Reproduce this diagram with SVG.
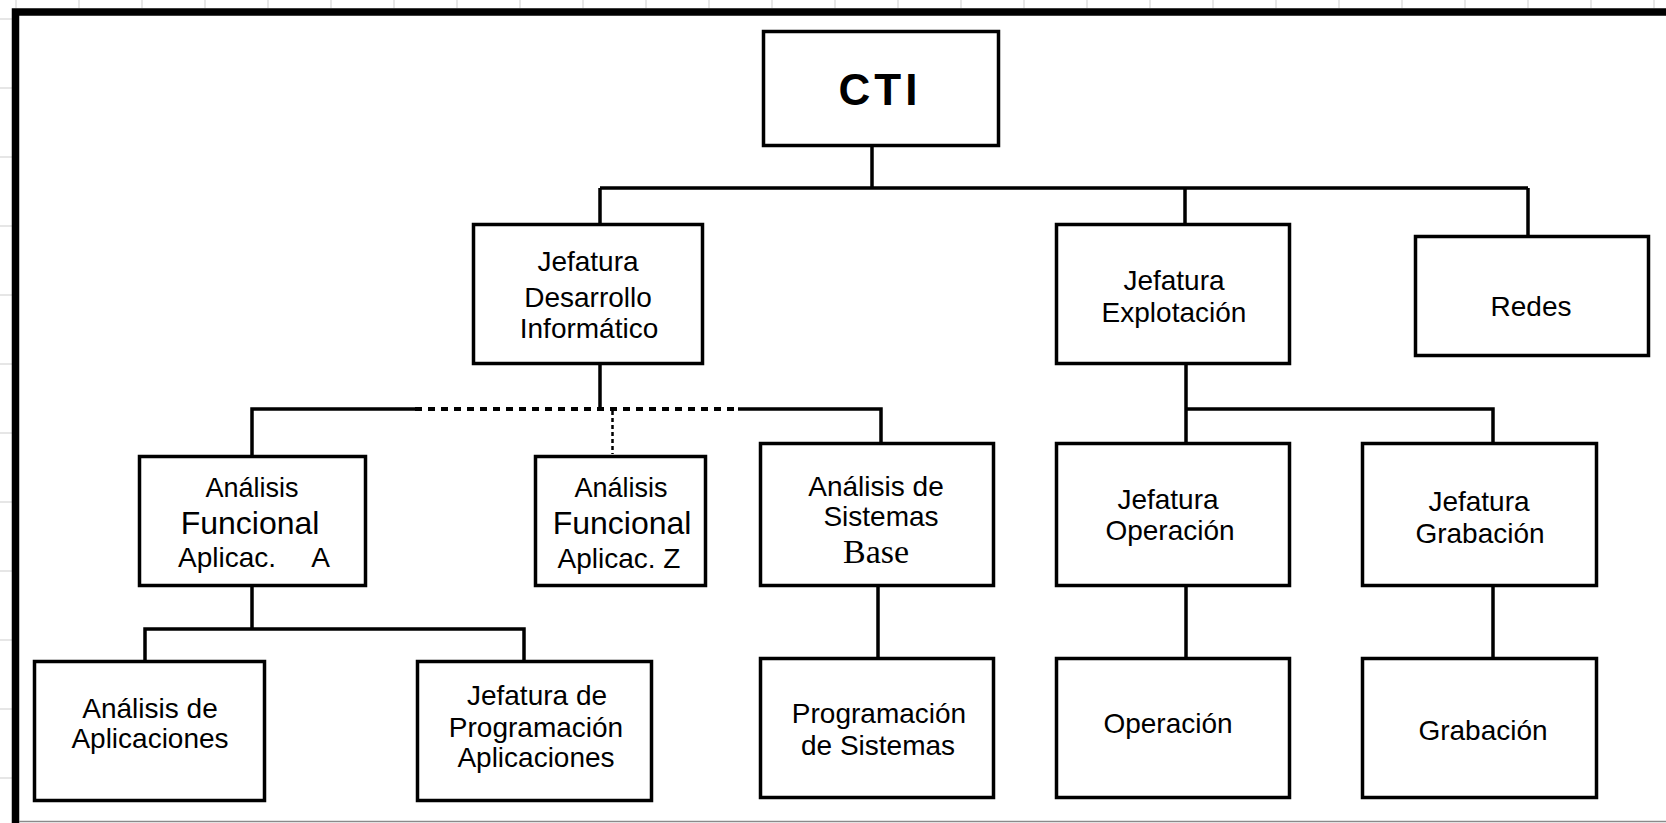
<svg xmlns="http://www.w3.org/2000/svg" width="1666" height="823" viewBox="0 0 1666 823">
<style>
.box{fill:#fff;stroke:#000;stroke-width:3.5}
.ln{fill:none;stroke:#000;stroke-width:3.5}
.dash{fill:none;stroke:#000;stroke-width:4;stroke-dasharray:7 6}
.dot{fill:none;stroke:#000;stroke-width:2.5;stroke-dasharray:4 3}
.grid{stroke:#dedede;stroke-width:1.5}
text{font-family:"Liberation Sans",Arial,sans-serif;font-size:28px;fill:#000;text-anchor:middle}
.sm{font-size:27px}
.big{font-size:32px}
.serif{font-family:"Liberation Serif","Times New Roman",serif;font-size:34px}
.cti{font-weight:bold;font-size:44px;letter-spacing:4px}
</style>
<rect width="1666" height="823" fill="#fff"/>
<g id="sheet-grid">
<path class="grid" d="M16 0V8M79 0V8M142 0V8M205 0V8M268 0V8M331 0V8M394 0V8M457 0V8M520 0V8M583 0V8M646 0V8M709 0V8M772 0V8M835 0V8M898 0V8M961 0V8M1024 0V8M1087 0V8M1150 0V8M1213 0V8M1276 0V8M1339 0V8M1402 0V8M1465 0V8M1528 0V8M1591 0V8M1654 0V8"/>
<path class="grid" d="M0 19H12M0 88H12M0 157H12M0 226H12M0 295H12M0 364H12M0 433H12M0 502H12M0 571H12M0 640H12M0 709H12M0 778H12"/>
</g>
<g id="frame">
<path d="M15.5 823V12H1666" fill="none" stroke="#000" stroke-width="7.5"/>
<path d="M19 821.5H1666" stroke="#8a8a8a" stroke-width="1.5"/>
</g>
<g id="connectors">
<path class="ln" d="M872 147V188M600 188H1528M600 188V223M1185 188V223M1528 188V235"/>
<path class="ln" d="M600 365V409"/>
<path class="ln" d="M252 455V409H415M738 409H881V442"/>
<path class="dash" d="M415 409H738"/>
<path class="dot" d="M612.5 411V454"/>
<path class="ln" d="M1186 365V442M1186 409H1493V442"/>
<path class="ln" d="M252 587V629M145 660V629H524V660"/>
<path class="ln" d="M878 587V657M1186 587V657M1493 587V657"/>
</g>
<g id="cti"><rect class="box" x="763.5" y="31.5" width="235" height="114"/><text class="cti" x="880" y="105">CTI</text></g>
<g id="jefatura-desarrollo"><rect class="box" x="473.5" y="224.5" width="229" height="139"/>
<text x="588" y="271">Jefatura</text><text x="588" y="307">Desarrollo</text><text x="589" y="338">Informático</text></g>
<g id="jefatura-explotacion"><rect class="box" x="1056.5" y="224.5" width="233" height="139"/>
<text x="1174" y="290">Jefatura</text><text x="1174" y="322">Explotación</text></g>
<g id="redes"><rect class="box" x="1415.5" y="236.5" width="233" height="119"/><text x="1531" y="316">Redes</text></g>
<g id="analisis-funcional-a"><rect class="box" x="139.5" y="456.5" width="226" height="129"/>
<text class="sm" x="252" y="497">Análisis</text><text class="big" x="250" y="534">Funcional</text>
<text x="178" y="567" style="text-anchor:start">Aplicac.<tspan x="305"> A</tspan></text></g>
<g id="analisis-funcional-z"><rect class="box" x="535.5" y="456.5" width="170" height="129"/>
<text class="sm" x="621" y="497">Análisis</text><text class="big" x="622" y="534">Funcional</text><text x="619" y="568">Aplicac. Z</text></g>
<g id="analisis-sistemas-base"><rect class="box" x="760.5" y="443.5" width="233" height="142"/>
<text x="876" y="496">Análisis  de</text><text x="881" y="526">Sistemas</text><text class="serif" x="876" y="563">Base</text></g>
<g id="jefatura-operacion"><rect class="box" x="1056.5" y="443.5" width="233" height="142"/>
<text x="1168" y="509">Jefatura</text><text x="1170" y="540">Operación</text></g>
<g id="jefatura-grabacion"><rect class="box" x="1362.5" y="443.5" width="234" height="142"/>
<text x="1479" y="511">Jefatura</text><text x="1480" y="543">Grabación</text></g>
<g id="analisis-aplicaciones"><rect class="box" x="34.5" y="661.5" width="230" height="139"/>
<text x="150" y="718">Análisis  de</text><text x="150" y="748">Aplicaciones</text></g>
<g id="jefatura-programacion"><rect class="box" x="417.5" y="661.5" width="234" height="139"/>
<text x="537" y="705">Jefatura  de</text><text x="536" y="737">Programación</text><text x="536" y="767">Aplicaciones</text></g>
<g id="programacion-sistemas"><rect class="box" x="760.5" y="658.5" width="233" height="139"/>
<text x="879" y="723">Programación</text><text x="878" y="755">de Sistemas</text></g>
<g id="operacion"><rect class="box" x="1056.5" y="658.5" width="233" height="139"/><text x="1168" y="733">Operación</text></g>
<g id="grabacion"><rect class="box" x="1362.5" y="658.5" width="234" height="139"/><text x="1483" y="740">Grabación</text></g>
</svg>
